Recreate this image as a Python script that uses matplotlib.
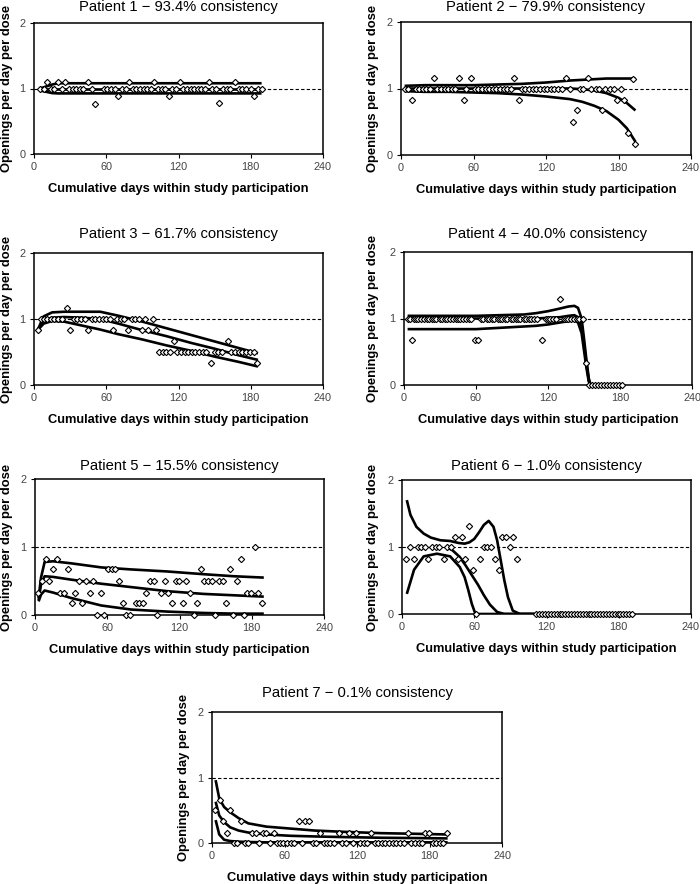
import matplotlib
matplotlib.use("Agg")
import matplotlib.pyplot as plt

plt.rcParams['font.family'] = ['Liberation Sans', 'DejaVu Sans']

W, H = 700, 884

titles = ["Patient 1 \u2212 93.4% consistency", "Patient 2 \u2212 79.9% consistency",
          "Patient 3 \u2212 61.7% consistency", "Patient 4 \u2212 40.0% consistency",
          "Patient 5 \u2212 15.5% consistency", "Patient 6 \u2212 1.0% consistency",
          "Patient 7 \u2212 0.1% consistency"]
x_ticks = [0, 60, 120, 180, 240]
y_ticks = [0, 1, 2]

# observed openings per day per dose (day, value)
p1_points = [(5, 1), (8, 1), (11, 1.1), (14, 1), (17, 1), (20, 1.1), (23, 1), (26, 1.1), (29, 1),
             (32, 1), (35, 1), (38, 1), (41, 1), (45, 1.1), (48, 1), (51, 0.76), (58, 1), (61, 1),
             (64, 1), (67, 1), (70, 0.88), (73, 1), (76, 1), (79, 1.1), (82, 1), (85, 1), (88, 1),
             (91, 1), (94, 1), (97, 1), (100, 1.1), (103, 1), (106, 1), (109, 1), (112, 0.88),
             (115, 1), (118, 1), (121, 1.1), (124, 1), (127, 1), (130, 1), (133, 1), (136, 1),
             (139, 1), (142, 1), (145, 1.1), (148, 1), (151, 1), (154, 0.78), (157, 1), (160, 1),
             (163, 1), (167, 1.1), (170, 1), (173, 1), (176, 1), (180, 1), (183, 0.88), (186, 1),
             (189, 1)]
p2_points = [(3, 1), (6, 1), (9, 0.83), (12, 1), (15, 1), (18, 1), (21, 1), (24, 1), (27.7, 1.16),
             (30, 1), (33, 1), (36, 1), (39, 1), (42, 1), (45, 1), (48, 1.16), (52, 0.83), (54, 1),
             (57.6, 1.16), (61, 1), (64, 1), (67, 1), (70, 1), (73, 1), (76, 1), (79, 1), (82, 1),
             (85, 1), (88, 1), (91, 1), (93.6, 1.16), (97.4, 0.83), (100, 1), (103, 1), (106, 1),
             (109, 1), (112, 1), (115, 1), (118, 1), (121, 1), (124, 1), (127, 1), (130, 1),
             (133, 1), (136.5, 1.16), (139.8, 1), (142.6, 0.5), (145.3, 0.67), (148, 1), (151, 1),
             (154.5, 1.16), (157, 1), (161, 1), (164, 1), (166.6, 0.67), (169, 1), (172.6, 1),
             (176, 1), (178.5, 0.83), (182, 1), (184.6, 0.83), (187.7, 0.33), (191.8, 1.15),
             (193.8, 0.17)]
p3_points = [(3, 0.83), (5.5, 1), (8, 1), (11, 1), (14, 1), (17, 1), (20, 1), (23, 1), (27, 1.17),
             (30, 0.83), (33, 1), (36, 1), (39, 1), (42, 1), (45, 0.83), (48, 1), (51, 1), (54, 1),
             (57, 1), (60, 1), (63, 1), (66, 0.83), (69, 1), (72, 1), (75, 1), (78, 0.83), (81, 1),
             (84, 1), (87, 1), (90, 0.83), (92.4, 1), (95, 0.83), (98.5, 1), (101.5, 0.83),
             (104, 0.5), (107, 0.5), (110, 0.5), (113, 0.5), (116, 0.67), (119, 0.5), (122, 0.5),
             (125, 0.5), (128, 0.5), (131, 0.5), (134, 0.5), (137, 0.5), (140, 0.5), (143, 0.5),
             (147, 0.33), (150, 0.5), (153, 0.5), (156, 0.5), (161, 0.67), (164, 0.5), (167, 0.5),
             (170, 0.5), (173, 0.5), (176, 0.5), (179, 0.5), (182.6, 0.5), (185.4, 0.33)]
p4_points = [(3, 1), (5, 1), (7, 0.67), (8.5, 1), (10, 1), (12, 1), (14, 1), (17, 1), (19, 1),
             (21, 1), (23, 1), (25, 1), (27, 1), (30, 1), (32, 1), (34, 1), (36, 1), (38, 1),
             (41, 1), (43, 1), (45, 1), (47, 1), (49, 1), (52, 1), (54, 1), (56, 1), (59, 0.67),
             (62, 0.67), (64, 1), (66, 1), (69, 1), (71, 1), (73, 1), (75, 1), (78, 1), (80, 1),
             (82, 1), (84, 1), (86, 1), (89, 1), (91, 1), (93, 1), (95, 1), (97, 1), (100, 1),
             (102, 1), (104, 1), (106, 1), (108, 1), (111, 1), (115, 0.67), (118, 1), (120, 1),
             (122, 1), (124, 1), (127, 1), (130.4, 1.3), (133, 1), (135, 1), (137, 1), (139, 1),
             (142, 1), (144, 1), (146, 1), (149, 1), (151.5, 0.33), (154.5, 0), (157, 0),
             (159.5, 0), (162, 0), (164.5, 0), (167, 0), (169.5, 0), (172, 0), (174.5, 0),
             (177, 0), (179.5, 0), (182, 0)]
p5_points = [(2.8, 0.33), (6, 0.5), (9.4, 0.83), (12, 0.5), (15, 0.67), (18, 0.83), (20.8, 0.33),
             (24, 0.33), (27, 0.67), (30.4, 0.17), (33.5, 0.33), (36.5, 0.5), (39.3, 0.17),
             (42.6, 0.5), (45.4, 0.33), (48.4, 0.5), (51.5, 0), (54.5, 0.33), (57.6, 0),
             (60.6, 0.67), (63.7, 0.67), (66.7, 0.67), (69.8, 0.5), (72.8, 0.17), (75.8, 0),
             (78.9, 0), (83.6, 0.17), (86.6, 0.17), (89.7, 0.17), (92.5, 0.33), (95.5, 0.5),
             (98.5, 0.5), (101.6, 0), (104.6, 0.33), (107.7, 0.5), (110.7, 0.33), (113.8, 0.17),
             (116.8, 0.5), (119.8, 0.5), (122.6, 0.17), (125.7, 0.5), (128.7, 0.33), (131.8, 0),
             (134.8, 0.17), (137.9, 0.67), (140.6, 0.5), (143.7, 0.5), (146.7, 0.5), (149.8, 0),
             (152.8, 0.5), (155.8, 0.5), (158.9, 0.17), (161.9, 0.67), (164.7, 0), (167.7, 0.5),
             (170.8, 0.83), (173.8, 0), (176.3, 0.33), (179.7, 0.33), (182.7, 1.0), (185.5, 0.33),
             (188.5, 0.17)]
p6_points = [(3.6, 0.82), (7, 1), (10, 0.82), (13.3, 1), (16, 1), (19, 1), (22, 0.82), (25, 1),
             (28, 1), (31, 1), (34.6, 0.82), (37.4, 1), (40.4, 1), (43.7, 1.15), (46.5, 0.82),
             (49.5, 1.15), (52.6, 0.82), (56, 1.32), (58.7, 0.66), (61.7, 0), (64.8, 0.82),
             (67.8, 1), (71, 1), (74, 1), (77, 0.82), (80.3, 0.66), (83, 1.15), (86, 1.15),
             (89.4, 1), (92.5, 1.15), (95.5, 0.82), (111.5, 0), (114, 0), (116.5, 0), (119, 0),
             (121, 0), (123.5, 0), (126, 0), (128.5, 0), (131, 0), (133, 0), (135.5, 0), (138, 0),
             (140.5, 0), (143, 0), (145, 0), (147.5, 0), (150, 0), (152.5, 0), (155, 0), (157, 0),
             (159.5, 0), (162, 0), (164.5, 0), (167, 0), (169, 0), (171.5, 0), (174, 0),
             (176.5, 0), (179, 0), (181, 0), (183.5, 0), (186, 0), (188.5, 0), (191, 0)]
p7_points = [(2.8, 0.5), (6.3, 0.66), (9, 0.33), (12.4, 0.16), (15, 0.5), (18, 0), (21, 0),
             (24, 0.33), (27, 0), (30, 0), (33, 0.16), (36, 0.16), (39, 0), (42, 0.16), (45, 0.16),
             (48, 0), (51, 0.16), (54, 0), (56.5, 0), (59, 0), (62, 0), (65, 0), (67.6, 0),
             (71.7, 0.33), (74.5, 0), (77, 0.33), (80.5, 0.33), (83.6, 0), (86.3, 0), (89.6, 0.16),
             (92.4, 0), (95, 0), (98, 0), (101, 0), (104.8, 0.16), (107.6, 0), (110.6, 0),
             (113.6, 0.16), (116.7, 0), (119.4, 0.16), (122.5, 0), (125.5, 0), (128.5, 0),
             (131.6, 0.16), (134.5, 0), (137.5, 0), (140.5, 0), (143.5, 0), (146.5, 0), (149.5, 0),
             (152.5, 0), (155.5, 0), (158.5, 0), (162, 0.16), (165, 0), (168, 0), (171, 0),
             (174, 0), (176.5, 0.16), (179.3, 0.16), (182.5, 0), (185.5, 0), (188.5, 0),
             (191.5, 0), (194.5, 0.16)]

# fitted trend and band curves (day list, then one value list per curve)
p1_curve_days = [5, 10, 15, 20, 40, 100, 189]
p1_curves = [[1.0, 1.03, 1.06, 1.08, 1.08, 1.08, 1.08],
             [1.0, 1.0, 1.0, 1.0, 1.0, 1.0, 1.0],
             [0.97, 0.95, 0.93, 0.925, 0.925, 0.925, 0.925]]
p2_curve_days = [3, 20, 40, 60, 80, 100, 120, 140, 150, 160, 170, 180, 187, 194]
p2_curves = [[1.04, 1.05, 1.05, 1.05, 1.06, 1.07, 1.09, 1.12, 1.13, 1.14, 1.15, 1.15, 1.15, 1.15],
             [1.0, 1.0, 1.0, 1.0, 1.0, 1.0, 1.0, 1.0, 0.99, 0.97, 0.93, 0.86, 0.78, 0.67],
             [0.96, 0.95, 0.95, 0.94, 0.93, 0.91, 0.88, 0.84, 0.8, 0.74, 0.66, 0.53, 0.4, 0.2]]
p3_curve_days = [3, 8, 15, 25, 40, 55, 70, 90, 110, 130, 150, 170, 186]
p3_curves = [[0.83, 1.04, 1.1, 1.11, 1.11, 1.11, 1.05, 0.96, 0.86, 0.76, 0.66, 0.56, 0.48],
             [0.83, 0.98, 1.02, 1.03, 1.02, 1.0, 0.93, 0.83, 0.74, 0.64, 0.55, 0.45, 0.38],
             [0.83, 0.93, 0.97, 0.96, 0.9, 0.84, 0.77, 0.69, 0.6, 0.52, 0.43, 0.35, 0.28]]
p4_curve_days = [3, 20, 40, 60, 80, 100, 110, 120, 130, 137, 142, 145, 148, 150, 152, 154, 155.5]
p4_curves = [[1.04, 1.04, 1.04, 1.04, 1.05, 1.06, 1.08, 1.11, 1.15, 1.18, 1.19, 1.16, 1.0, 0.7, 0.38, 0.1, 0],
             [1.0, 1.0, 1.0, 1.0, 1.0, 1.0, 1.0, 1.01, 1.02, 1.04, 1.05, 1.02, 0.88, 0.62, 0.32, 0.07, 0],
             [0.84, 0.84, 0.84, 0.84, 0.86, 0.88, 0.89, 0.91, 0.94, 0.96, 0.97, 0.94, 0.78, 0.52, 0.26, 0.05, 0]]
p5_curve_days = [3, 5, 8, 15, 30, 55, 80, 110, 140, 165, 190]
p5_curves = [[0.25, 0.55, 0.78, 0.79, 0.76, 0.7, 0.67, 0.64, 0.6, 0.57, 0.55],
             [0.22, 0.45, 0.57, 0.56, 0.52, 0.46, 0.41, 0.35, 0.31, 0.29, 0.27],
             [0.2, 0.3, 0.36, 0.33, 0.25, 0.14, 0.08, 0.05, 0.03, 0.02, 0.02]]
p6_curve_days = [4, 7, 12, 18, 24, 32, 40, 47, 52, 56, 60, 64, 68, 72, 76, 79, 82, 85, 88, 92, 98, 110]
p6_upper = [1.7, 1.48, 1.3, 1.2, 1.14, 1.1, 1.09, 1.06, 1.05, 1.07, 1.12, 1.22, 1.33, 1.39, 1.3,
            1.1, 0.8, 0.5, 0.25, 0.05, 0.0, 0.0]
p6_mid_days = [37, 42, 48, 53, 58, 63, 68, 73, 79, 85, 110]
p6_mid = [1.0, 0.95, 0.85, 0.72, 0.58, 0.44, 0.28, 0.14, 0.03, 0.0, 0.0]
p6_low_days = [4, 10, 18, 29, 40, 48, 52, 55, 58, 61, 110]
p6_low = [0.3, 0.66, 0.86, 0.9, 0.86, 0.7, 0.55, 0.36, 0.15, 0.0, 0.0]
p7_curve_days = [3, 6, 10, 15, 22, 30, 45, 65, 85, 110, 140, 170, 195]
p7_curves = [[0.96, 0.68, 0.55, 0.47, 0.38, 0.3, 0.25, 0.22, 0.19, 0.17, 0.15, 0.14, 0.13],
             [0.63, 0.42, 0.32, 0.24, 0.19, 0.16, 0.13, 0.11, 0.1, 0.09, 0.08, 0.075, 0.07],
             [0.35, 0.13, 0.05, 0.03, 0.02, 0.015, 0.01, 0.01, 0.01, 0.01, 0.01, 0.01, 0.01]]

points = [p1_points, p2_points, p3_points, p4_points, p5_points, p6_points, p7_points]
curves = [
    [(p1_curve_days, c) for c in p1_curves],
    [(p2_curve_days, c) for c in p2_curves],
    [(p3_curve_days, c) for c in p3_curves],
    [(p4_curve_days, c) for c in p4_curves],
    [(p5_curve_days, c) for c in p5_curves],
    [(p6_curve_days, p6_upper), (p6_mid_days, p6_mid), (p6_low_days, p6_low)],
    [(p7_curve_days, c) for c in p7_curves],
]

# axes boxes in pixels: left, top, right, bottom
boxes = [(34, 23, 323, 154), (401, 22, 691, 155),
         (34, 253, 323, 385), (404, 252, 692, 385),
         (35, 479, 324, 615), (402, 480, 691, 614),
         (212, 712, 502, 843)]
title_y = [7, 7, 234, 234, 466, 466, 693]
ylab_x = [7, 373, 7, 373, 7, 373, 184]

fig = plt.figure(figsize=(W / 100, H / 100), dpi=100)

for i in range(7):
    x0, y0, x1, y1 = boxes[i]
    ax = fig.add_axes([x0 / W, 1 - y1 / H, (x1 - x0) / W, (y1 - y0) / H])
    ax.axhline(1, color='black', lw=0.8, ls=(0, (3, 2)), zorder=1)
    for days, vals in curves[i]:
        ax.plot(days, vals, color='black', lw=1.9, zorder=2, solid_capstyle='butt')
    xs = [p[0] for p in points[i]]
    ys = [p[1] for p in points[i]]
    ax.plot(xs, ys, ls='none', marker='D', ms=3.2, mfc='white', mec='black', mew=0.8, zorder=3,
            clip_on=False)
    ax.set_xlim(0, 240)
    ax.set_ylim(0, 2)
    ax.set_xticks(x_ticks)
    ax.set_yticks(y_ticks)
    ax.tick_params(direction='out', length=3, width=0.8, labelsize=7.8, labelcolor='#444444',
                   pad=3)
    for s in ax.spines.values():
        s.set_linewidth(1.1)
    cx = (x0 + x1) / 2
    fig.text(cx / W, 1 - title_y[i] / H, titles[i], ha='center', va='center', fontsize=10.6)
    fig.text(cx / W, 1 - (y1 + 35) / H, "Cumulative days within study participation",
             ha='center', va='center', fontsize=9.3, fontweight='bold')
    fig.text(ylab_x[i] / W, 1 - (y0 + y1) / 2 / H, "Openings per day per dose", rotation=90,
             ha='center', va='center', fontsize=9.4, fontweight='bold')

fig.savefig("out.png", dpi=100)
